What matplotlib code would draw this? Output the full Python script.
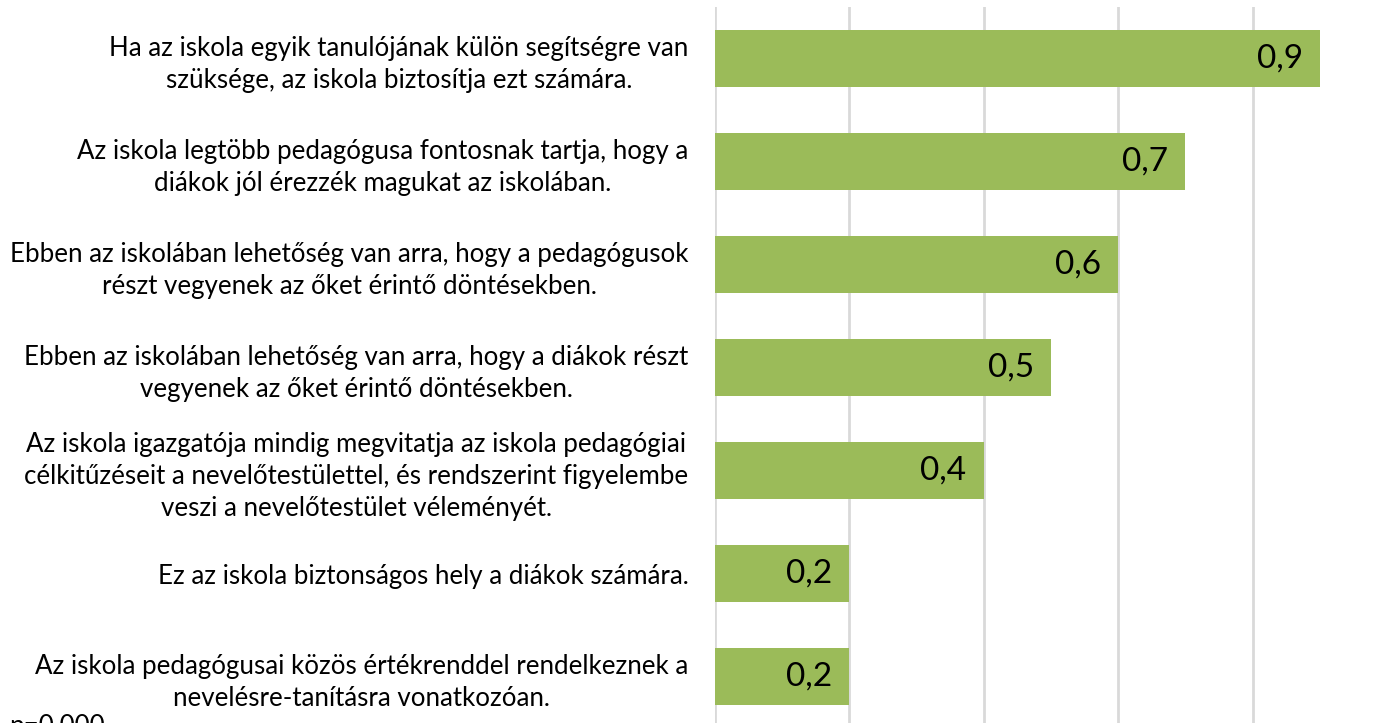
import matplotlib
matplotlib.use("Agg")
import matplotlib.pyplot as plt

categories = [
    "Ha az iskola egyik tanulójának külön segítségre van\nszüksége, az iskola biztosítja ezt számára.",
    "Az iskola legtöbb pedagógusa fontosnak tartja, hogy a\ndiákok jól érezzék magukat az iskolában.",
    "Ebben az iskolában lehetőség van arra, hogy a pedagógusok\nrészt vegyenek az őket érintő döntésekben.",
    "Ebben az iskolában lehetőség van arra, hogy a diákok részt\nvegyenek az őket érintő döntésekben.",
    "Az iskola igazgatója mindig megvitatja az iskola pedagógiai\ncélkitűzéseit a nevelőtestülettel, és rendszerint figyelembe\nveszi a nevelőtestület véleményét.",
    "Ez az iskola biztonságos hely a diákok számára.",
    "Az iskola pedagógusai közös értékrenddel rendelkeznek a\nnevelésre-tanításra vonatkozóan.",
]
values = [0.9, 0.7, 0.6, 0.5, 0.4, 0.2, 0.2]
value_labels = ["0,9", "0,7", "0,6", "0,5", "0,4", "0,2", "0,2"]
note = "p=0,000"

plt.rcParams['font.family'] = ['Lato', 'DejaVu Sans']

fig = plt.figure(figsize=(13.85, 7.23), dpi=100)
W, H = 1385, 723
left, right_px = 714.5, 714.5 + 672.5
top, bottom = 7, 728
ax = fig.add_axes([left / W, 1 - bottom / H, (right_px - left) / W, (bottom - top) / H])

y = list(range(len(categories)))
ax.barh(y, values, height=0.55, color="#9BBB59", zorder=2)
ax.set_ylim(len(categories) - 0.5, -0.5)
ax.set_xlim(0, 1.0)
ax.set_xticks([0, 0.2, 0.4, 0.6, 0.8, 1.0])
ax.xaxis.grid(True, color="#D9D9D9", linewidth=2, zorder=0)
ax.set_xticklabels([])
ax.tick_params(axis='x', length=0)
ax.set_yticks(y)
ax.set_yticklabels(categories, fontsize=18.6, ha='right', multialignment='center', linespacing=1.35)
ax.tick_params(axis='y', length=0, pad=18.7)
for s in ax.spines.values():
    s.set_visible(False)

for yi, v, lab in zip(y, values, value_labels):
    ax.annotate(lab, xy=(v, yi), xytext=(-17, 0), textcoords='offset pixels',
                ha='right', va='center', fontsize=24, color='black')

fig.text(9 / W, 1 - 734 / H, note, fontsize=18.6, ha='left', va='baseline')

fig.savefig("out.png", dpi=100)
